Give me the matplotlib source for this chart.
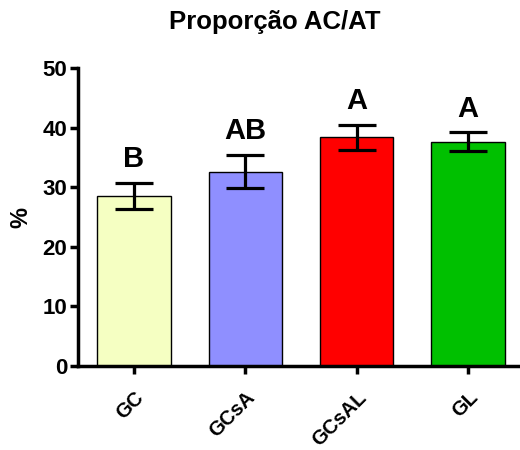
import numpy as np
import matplotlib.pyplot as plt

plt.rcParams['font.family'] = ['Liberation Sans', 'DejaVu Sans']
plt.rcParams['font.weight'] = 'bold'

groups = ['GC', 'GCsA', 'GCsAL', 'GL']
means = [28.5, 32.6, 38.4, 37.6]
errs = [2.2, 2.8, 2.1, 1.6]
letters = ['B', 'AB', 'A', 'A']
colors = ['#F5FFC2', '#8F8FFF', '#FF0000', '#00C000']

fig = plt.figure(figsize=(5.2, 4.5), dpi=100)
ax = fig.add_axes([0.1506, 0.1873, 0.8454, 0.6617])

x = np.arange(len(groups))
ax.bar(x, means, width=0.66, color=colors, edgecolor='black', linewidth=1.0, zorder=2)
ax.errorbar(x, means, yerr=errs, fmt='none', ecolor='black', elinewidth=2.3,
            capsize=13.5, capthick=2.3, zorder=3)

# significance letters above each error bar
for xi, m, e, lab in zip(x, means, errs, letters):
    ax.annotate(lab, (xi, m + e), xytext=(0, 7), textcoords='offset points',
                ha='center', va='bottom', fontsize=21, fontweight='bold')

ax.set_xlim(-0.5, 3.45)
ax.set_ylim(0, 50)
ax.set_yticks([0, 10, 20, 30, 40, 50])
ax.set_xticks(x)
ax.set_xticklabels(groups, rotation=45, ha='right', va='top', rotation_mode='anchor',
                   fontsize=14.5, fontweight='bold')
for lbl in ax.get_yticklabels():
    lbl.set_fontsize(16)
    lbl.set_fontweight('bold')

for side in ['top', 'right']:
    ax.spines[side].set_visible(False)
for side in ['left', 'bottom']:
    ax.spines[side].set_linewidth(2.5)
ax.tick_params(axis='both', width=2.5, length=6, pad=2)
ax.tick_params(axis='x', pad=10)

fig.text(21 / 520, 1 - 218 / 450, '%', rotation=90, ha='center', va='center',
         fontsize=17, fontweight='bold')
fig.text(0.528, 1 - 29 / 450, 'Proporção AC/AT', ha='center', va='baseline',
         fontsize=18.5, fontweight='bold')

fig.savefig('out.png', dpi=100)
